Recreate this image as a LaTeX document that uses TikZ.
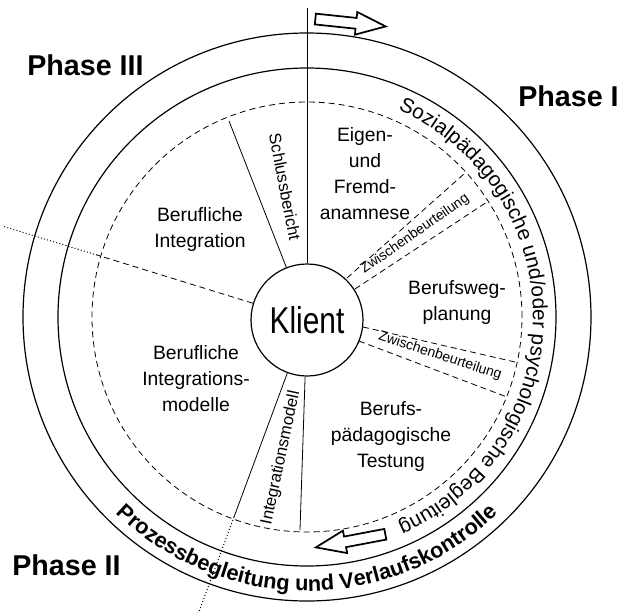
\documentclass[tikz,border=0pt]{standalone}
\usepackage{fontspec}
\setmainfont{Liberation Sans}
\newfontfamily\klientschrift{Liberation Sans}[FakeStretch=0.8]
\usetikzlibrary{shapes.arrows, decorations.text, positioning}

\tikzstyle{ring} = [line width=0.9pt]
\tikzstyle{trenn} = [line width=0.6pt]
\tikzstyle{strich} = [line width=0.6pt, dash pattern=on 4.5pt off 3pt]
\tikzstyle{punkt} = [line width=0.7pt, dash pattern=on 0.8pt off 1.6pt]
\tikzstyle{feld} = [align=center, font=\fontsize{14.5}{19.5}\selectfont]
\tikzstyle{band} = [font=\fontsize{12.5}{14}\selectfont, inner sep=1pt]
\tikzstyle{zwischen} = [font=\fontsize{10.5}{12}\selectfont, inner sep=1pt]
\tikzstyle{phase} = [font=\bfseries\fontsize{21.5}{24}\selectfont, anchor=base west, inner sep=0pt]
\tikzstyle{hohlpfeil} = [single arrow, draw, line width=1.3pt, inner xsep=0pt, inner ysep=3.4pt, single arrow head extend=4.5pt, single arrow tip angle=42, minimum height=53pt]

\begin{document}
\begin{tikzpicture}[x=0.75pt, y=0.75pt]
\useasboundingbox (-307,-295) rectangle (311,317);

% Ringe
\draw [ring] (0,0) circle (284);
\draw [ring] (0,0) circle (249);
\draw [strich] (0,0) circle (215);

% Mitte
\node (klient) [circle, draw, line width=0.9pt, minimum size=84pt, inner sep=0pt, fill=white] at (0,-3) {\klientschrift\fontsize{28}{30}\selectfont Klient};

% Trennlinien
\coordinate (oben) at (0,309);
\coordinate (schluss) at (-78,196);
\coordinate (integ) at (-73,-200);
\coordinate (integaus) at (-110,-300);
\coordinate (unten) at (-7,-213);
\coordinate (links) at (-210,62);
\coordinate (linksaus) at (-305,91);

\draw [trenn] (klient) -- (oben);
\draw [trenn] (klient) -- (schluss);
\draw [trenn] (klient) -- (integ);
\draw [punkt] (integ) -- (integaus);
\draw [trenn] (klient) -- (unten);
\draw [strich] (klient) -- (links);
\draw [punkt] (links) -- (linksaus);

% Zwischenbeurteilungen
\coordinate (zaa) at (40,39);
\coordinate (zab) at (158,144);
\coordinate (zba) at (48,28);
\coordinate (zbb) at (180,115);
\draw [strich] (zaa) -- (zab);
\draw [strich] (zba) -- (zbb);

\coordinate (zca) at (56,-10);
\coordinate (zcb) at (208,-45);
\coordinate (zda) at (52,-24);
\coordinate (zdb) at (200,-80);
\draw [strich] (zca) -- (zcb);
\draw [strich] (zda) -- (zdb);

% Felder
\node (eigen) [feld] at (58,143) {Eigen-\\und\\Fremd-\\anamnese};
\node (berufsweg) [feld] at (150,14) {Berufsweg-\\planung};
\node (testung) [feld] at (84,-120) {Berufs-\\pädagogische\\Testung};
\node (modelle) [feld] at (-111,-62) {Berufliche\\Integrations-\\modelle};
\node (integration) [feld] at (-107,88) {Berufliche\\Integration};

\node (schlussbericht) [band, rotate=-79] at (-22,130) {Schlussbericht};
\node (integrationsmodell) [band, rotate=78] at (-26,-141) {Integrationsmodell};
\node (zwischeneins) [zwischen, rotate=35] at (108,83) {Zwischenbeurteilung};
\node (zwischenzwei) [zwischen, rotate=-18] at (133,-39) {Zwischenbeurteilung};

% Bogentexte
\path [decorate, decoration={text along path, text align=center,
  text={|\fontsize{15.5}{17}\selectfont|Sozialpädagogische und/oder psychologische Begleitung}}]
  (90:226) arc[start angle=90, end angle=-90, radius=226];
\path [decorate, decoration={text along path, text align=center,
  text={|\bfseries\fontsize{16.3}{18}\selectfont|Prozessbegleitung und Verlaufskontrolle}}]
  (180:274) arc[start angle=180, end angle=360, radius=274];

% Pfeile
\node (pfeiloben) [hohlpfeil, rotate=-6] at (36.5,295) {};
\node (pfeilunten) [hohlpfeil, rotate=190.7] at (50.5,-222.5) {};

% Phasen
\node (phasedrei) [phase] at (-280,242) {Phase III};
\node (phaseeins) [phase] at (211,211) {Phase I};
\node (phasezwei) [phase] at (-295,-258) {Phase II};

\end{tikzpicture}
\end{document}
